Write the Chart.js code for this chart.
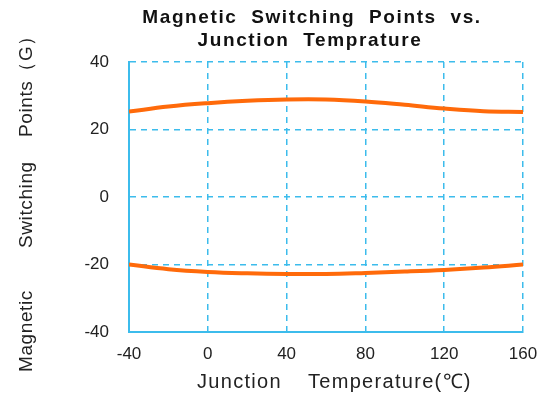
<!DOCTYPE html>
<html>
<head>
<meta charset="utf-8">
<script src="https://cdn.jsdelivr.net/npm/chart.js@4/dist/chart.umd.min.js"></script>
<style>
  html, body { margin: 0; padding: 0; background: #fff; }
  #wrap { width: 554px; height: 400px; }
</style>
</head>
<body>
<div id="wrap"><canvas id="chart" width="554" height="400"></canvas></div>
<script>
// temperature points (°C)
var temps = [-40, -20, 0, 20, 40, 60, 80, 100, 120, 140, 160];
// operate point (upper curve) and release point (lower curve), in G
var upperPoints = [25.3, 26.8, 27.8, 28.5, 28.9, 28.9, 28.3, 27.3, 26.2, 25.4, 25.2];
var lowerPoints = [-20.0, -21.4, -22.2, -22.6, -22.8, -22.8, -22.5, -22.1, -21.6, -20.9, -20.0];
var xTicks = [-40, 0, 40, 80, 120, 160];
var yTicks = [-40, -20, 0, 20, 40];
var titleLines = ["Magnetic  Switching  Points  vs.", "Junction  Temprature"];
var xTitleWords = ["Junction", "Temperature(℃)"];
var yTitleWords = ["Magnetic", "Switching", "Points（G）"];

var gridColor = "#3cbcec";
var lineColor = "#ff6a0a";
var textColor = "#222";
var fontFam = "'Liberation Sans', Arial, sans-serif";

function toXY(xs, ys) {
  return xs.map(function (x, i) { return { x: x, y: ys[i] }; });
}

// title + spaced-out axis titles (canvas letterSpacing isn't exposed by chart.js)
var textPlugin = {
  id: "spacedText",
  afterDraw: function (chart) {
    var ctx = chart.ctx;
    ctx.save();
    ctx.textBaseline = "middle";

    ctx.fillStyle = "#111";
    ctx.font = "bold 19px " + fontFam;
    ctx.textAlign = "center";
    ctx.letterSpacing = "1.6px";
    ctx.fillText(titleLines[0], 312, 18);
    ctx.fillText(titleLines[1], 310, 41);

    ctx.fillStyle = textColor;
    ctx.font = "20px " + fontFam;
    ctx.textAlign = "left";
    ctx.letterSpacing = "1.3px";
    ctx.fillText(xTitleWords[0], 197, 382);
    ctx.fillText(xTitleWords[1], 308, 382);

    ctx.font = "19px " + fontFam;
    ctx.letterSpacing = "0.6px";
    ctx.translate(27, 0);
    ctx.rotate(-Math.PI / 2);
    ctx.fillText(yTitleWords[0], -372, 0);
    ctx.fillText(yTitleWords[1], -248, 0);
    ctx.fillText(yTitleWords[2], -137, 0);
    ctx.restore();
  }
};

new Chart(document.getElementById("chart"), {
  type: "line",
  data: {
    datasets: [
      {
        data: toXY(temps, upperPoints),
        borderColor: lineColor,
        borderWidth: 4,
        pointRadius: 0,
        tension: 0.4,
        fill: false
      },
      {
        data: toXY(temps, lowerPoints),
        borderColor: lineColor,
        borderWidth: 4,
        pointRadius: 0,
        tension: 0.4,
        fill: false
      }
    ]
  },
  options: {
    responsive: false,
    animation: false,
    layout: { padding: { left: 16, right: 31, top: 62, bottom: 4 } },
    plugins: { legend: { display: false }, tooltip: { enabled: false } },
    scales: {
      x: {
        type: "linear",
        min: -40,
        max: 160,
        afterBuildTicks: function (scale) {
          scale.ticks = xTicks.map(function (v) { return { value: v }; });
        },
        afterFit: function (scale) { scale.height = 64; },
        grid: { color: gridColor, lineWidth: 1.5, drawTicks: false },
        border: { display: true, color: gridColor, width: 2, dash: [6, 5] },
        ticks: { color: textColor, font: { size: 17, family: fontFam }, padding: 12 }
      },
      y: {
        min: -40,
        max: 40,
        afterBuildTicks: function (scale) {
          scale.ticks = yTicks.map(function (v) { return { value: v }; });
        },
        afterFit: function (scale) { scale.width = 113; },
        grid: { color: gridColor, lineWidth: 1.5, drawTicks: false },
        border: { display: true, color: gridColor, width: 2, dash: [6, 5] },
        ticks: { color: textColor, font: { size: 17, family: fontFam }, padding: 20 }
      }
    }
  },
  plugins: [textPlugin]
});
</script>
</body>
</html>
